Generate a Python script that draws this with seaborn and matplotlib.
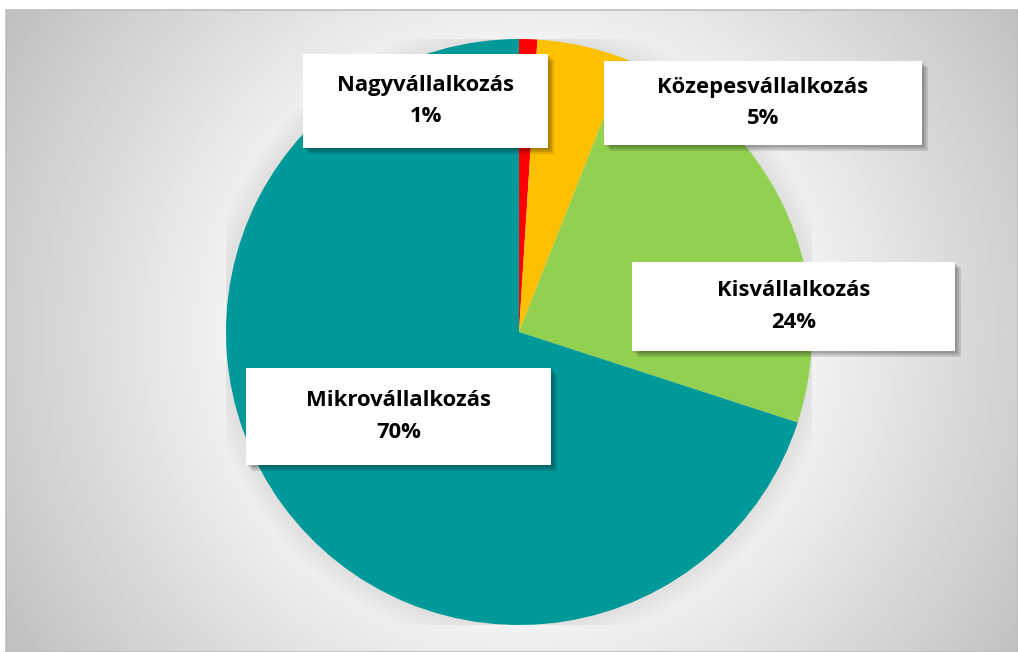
import numpy as np
import seaborn as sns
import matplotlib.pyplot as plt
from matplotlib.patches import Rectangle, Circle

# Data
categories = ["Nagyvállalkozás", "Közepesvállalkozás", "Kisvállalkozás", "Mikrovállalkozás"]
shares = [1, 5, 24, 70]
slice_colors = ["#FF0000", "#FFC000", "#92D050", "#009999"]

# label box layout, in pixels from top-left: x0, y0, x1, y1
label_boxes = [(303, 54, 548, 148), (604, 61, 922, 145), (632, 262, 955, 351), (246, 368, 551, 465)]

sns.set_theme(style="white")
plt.rcParams["font.family"] = ["Open Sans", "DejaVu Sans"]

W, H = 1018, 652
fig = plt.figure(figsize=(W / 100, H / 100), dpi=100)
fig.patch.set_facecolor("white")

# radial grey background panel
bg = fig.add_axes([6 / W, 0, (W - 6) / W, (H - 10) / H])
yy, xx = np.mgrid[0:H - 10, 0:W - 6]
cx, cy = 513, 322
dist = np.sqrt((xx - cx) ** 2 + (yy - cy) ** 2)
shade = np.clip(0.95 - 0.20 * (dist - 290) / 315, 0.75, 0.96)
bg.imshow(shade, cmap="gray", vmin=0, vmax=1, aspect="auto", interpolation="bilinear")
bg.set_axis_off()
fig.add_artist(Rectangle((6 / W, 0), (W - 6) / W, (H - 10) / H, transform=fig.transFigure,
                         fill=False, edgecolor="#BDBDBD", linewidth=1.2))

# pie
pcx, pcy, r = 519, 332, 293
ax = fig.add_axes([(pcx - r) / W, (H - pcy - r) / H, 2 * r / W, 2 * r / H])
ax.set_facecolor("none")
for k in range(6):
    ax.add_patch(Circle((0.0, 0.0), 1.0 + 0.012 * (k + 1), color="black",
                        alpha=0.012, linewidth=0, zorder=0))
ax.pie(shares, colors=slice_colors, startangle=90, counterclock=False,
       wedgeprops=dict(linewidth=0), radius=1.0)
ax.set_xlim(-1, 1)
ax.set_ylim(-1, 1)
ax.set_aspect("auto")
ax.set_axis_off()

# label boxes with shadow
for name, val, (x0, y0, x1, y1) in zip(categories, shares, label_boxes):
    for k in range(3):
        off = 2 + 2 * k
        fig.add_artist(Rectangle(((x0 + off) / W, (H - y1 - off) / H), (x1 - x0) / W, (y1 - y0) / H,
                                 transform=fig.transFigure, facecolor="black", alpha=0.12,
                                 linewidth=0, zorder=5))
    fig.add_artist(Rectangle((x0 / W, (H - y1) / H), (x1 - x0) / W, (y1 - y0) / H,
                             transform=fig.transFigure, facecolor="white", linewidth=0, zorder=6))
    xc = (x0 + x1) / 2
    yc = (y0 + y1) / 2
    fig.text(xc / W, (H - yc + 16) / H, name, ha="center", va="center",
             fontsize=15.8, fontweight="bold", color="black", zorder=7)
    fig.text(xc / W, (H - yc - 16) / H, f"{val}%", ha="center", va="center",
             fontsize=15.8, fontweight="bold", color="black", zorder=7)

fig.savefig("out.png", dpi=100)
